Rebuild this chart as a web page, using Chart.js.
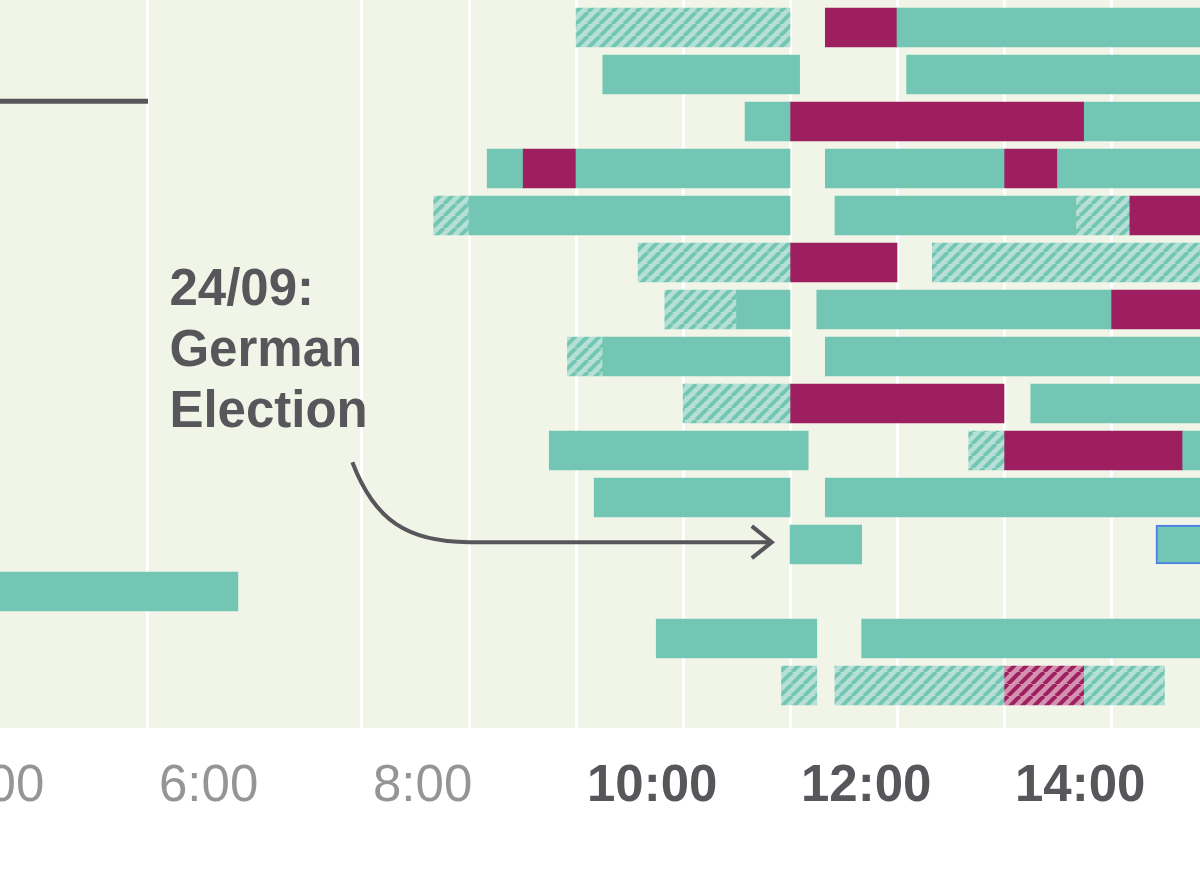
<!DOCTYPE html>
<html>
<head>
<meta charset="utf-8">
<script src="https://cdn.jsdelivr.net/npm/chart.js@4.4.1/dist/chart.umd.min.js"></script>
<style>
  html, body { margin: 0; padding: 0; background: #ffffff; }
  #wrap { width: 1200px; height: 881px; }
</style>
</head>
<body>
<div id="wrap"><canvas id="timeline" width="1200" height="881"></canvas></div>
<script>
// rows counted from the top, times in decimal hours: [row, start, end]
const tealBars = [
    [0, 13.0, 16],
    [1, 10.25, 12.09], [1, 13.09, 16],
    [2, 11.58, 12.0], [2, 14.75, 16],
    [3, 9.17, 9.5], [3, 10.0, 12.0], [3, 12.33, 14.0], [3, 14.5, 16],
    [4, 9.0, 12.0], [4, 12.42, 14.67],
    [6, 11.5, 12.0], [6, 12.25, 15.0],
    [7, 10.25, 12.0], [7, 12.33, 16],
    [8, 14.25, 16],
    [9, 9.75, 12.17], [9, 15.67, 16],
    [10, 10.17, 12.0], [10, 12.33, 16],
    [11, 12.0, 12.67],
    [12, 4.0, 6.84],
    [13, 10.75, 12.25], [13, 12.67, 16]
];
const tealHatchBars = [
    [0, 10.0, 12.0],
    [4, 8.67, 9.0], [4, 14.67, 15.17],
    [5, 10.58, 12.0], [5, 13.33, 16],
    [6, 10.83, 11.5],
    [7, 9.92, 10.25],
    [8, 11.0, 12.0],
    [9, 13.67, 14.0],
    [14, 11.92, 12.25], [14, 12.42, 14.0], [14, 14.75, 15.5]
];
const plumBars = [
    [0, 12.33, 13.0],
    [2, 12.0, 14.75],
    [3, 9.5, 10.0], [3, 14.0, 14.5],
    [4, 15.17, 16],
    [5, 12.0, 13.0],
    [6, 15.0, 16],
    [8, 12.0, 14.0],
    [9, 14.0, 15.67]
];
const plumHatchBars = [[14, 14.0, 14.75]];
const selectedBars = [[11, 15.42, 16]];

// leader line at top left: [row, start, end]
const leaderLine = [1.57, 4.5, 6.0];

const tickHours = [4, 5, 6, 7, 8, 9, 10, 11, 12, 13, 14, 15];
const gridHours = [6, 8, 9, 10, 11, 12, 13, 14, 15];
const labelHours = [4, 6, 8, 10, 12, 14];
const boldHours = [10, 12, 14];

const annotationLines = ['24/09:', 'German', 'Election'];

const TEAL = '#74c6b4';
const TEAL_LIGHT = '#b6e0d5';
const PLUM = '#9e1f5f';
const PLUM_LIGHT = '#d491b0';
const BG = '#f0f5e8';
const INK = '#57575b';

function hatch(base, stripe) {
    const s = 12;
    const c = document.createElement('canvas');
    c.width = s;
    c.height = s;
    const g = c.getContext('2d');
    g.fillStyle = base;
    g.fillRect(0, 0, s, s);
    g.strokeStyle = stripe;
    g.lineWidth = 4;
    [-s, 0, s].forEach(function(k) {
        g.beginPath();
        g.moveTo(k, s);
        g.lineTo(k + s, 0);
        g.stroke();
    });
    return g.createPattern(c, 'repeat');
}

function toPoints(list) {
    return list.map(function(b) { return { x: [b[1], b[2]], y: b[0] }; });
}

function barSet(list, fill) {
    return {
        type: 'bar',
        data: toPoints(list),
        backgroundColor: fill,
        borderWidth: 0,
        barThickness: 39,
        grouped: false
    };
}

// Fondo verde claro del área del gráfico
const backgroundPlugin = {
    id: 'plotBackground',
    beforeDraw: function(chart) {
        const a = chart.chartArea;
        const ctx = chart.ctx;
        ctx.save();
        ctx.fillStyle = BG;
        ctx.fillRect(a.left, a.top, a.right - a.left, a.bottom - a.top);
        ctx.restore();
    }
};

// Anotación con flecha curva
const annotationPlugin = {
    id: 'electionNote',
    afterDatasetsDraw: function(chart) {
        const ctx = chart.ctx;
        const x = chart.scales.x;
        const y = chart.scales.y;

        const tx = x.getPixelForValue(6.2);
        const ty = y.getPixelForValue(5.9);
        ctx.save();
        ctx.fillStyle = INK;
        ctx.font = 'bold 51px "Liberation Sans", Arial, sans-serif';
        ctx.textBaseline = 'alphabetic';
        annotationLines.forEach(function(line, i) {
            ctx.fillText(line, tx, ty + i * 61);
        });

        const sx = x.getPixelForValue(7.91), sy = y.getPixelForValue(9.25);
        const ex = x.getPixelForValue(9.0), ey = y.getPixelForValue(10.95);
        const tipX = x.getPixelForValue(11.83);
        ctx.strokeStyle = INK;
        ctx.lineWidth = 4;
        ctx.beginPath();
        ctx.moveTo(sx, sy);
        ctx.bezierCurveTo(sx + 22, sy + 58, sx + 55, ey, ex, ey);
        ctx.lineTo(tipX - 3, ey);
        ctx.stroke();
        ctx.beginPath();
        ctx.moveTo(tipX - 20, ey - 16);
        ctx.lineTo(tipX, ey);
        ctx.lineTo(tipX - 20, ey + 16);
        ctx.stroke();
        ctx.restore();
    }
};

const tickFont = function(context) {
    const v = context.tick ? context.tick.value : 0;
    if (boldHours.indexOf(v) >= 0) {
        return { family: '"Liberation Sans", Arial, sans-serif', size: 51, weight: 'bold', lineHeight: '64px' };
    }
    return { family: '"Liberation Sans", Arial, sans-serif', size: 51, weight: 'normal', lineHeight: '64px' };
};

const ctx = document.getElementById('timeline');

new Chart(ctx, {
    type: 'bar',
    data: {
        datasets: [
            barSet(tealBars, TEAL),
            barSet(tealHatchBars, hatch(TEAL_LIGHT, TEAL)),
            barSet(plumBars, PLUM),
            barSet(plumHatchBars, hatch(PLUM_LIGHT, PLUM)),
            Object.assign(barSet(selectedBars, TEAL), {
                borderColor: '#4d7ee6',
                borderWidth: 2,
                borderSkipped: false
            }),
            {
                type: 'line',
                indexAxis: 'x',
                data: [
                    { x: leaderLine[1], y: leaderLine[0] },
                    { x: leaderLine[2], y: leaderLine[0] }
                ],
                borderColor: INK,
                borderWidth: 5,
                borderCapStyle: 'butt',
                pointRadius: 0,
                fill: false
            }
        ]
    },
    options: {
        indexAxis: 'y',
        responsive: false,
        animation: false,
        devicePixelRatio: 1,
        layout: {
            padding: { left: 0, right: 0, top: 0, bottom: 65 }
        },
        scales: {
            x: {
                type: 'linear',
                position: 'bottom',
                offset: false,
                min: 6 - 148 / 107,
                max: 6 + 1052 / 107,
                afterBuildTicks: function(axis) {
                    axis.ticks = tickHours.map(function(v) { return { value: v }; });
                },
                afterFit: function(axis) {
                    // las etiquetas fuera del rango no deben empujar el área
                    axis.paddingLeft = 0;
                    axis.paddingRight = 0;
                    axis.height = 88;
                },
                grid: {
                    color: function(c) {
                        return gridHours.indexOf(c.tick.value) >= 0 ? '#ffffff' : 'rgba(0,0,0,0)';
                    },
                    lineWidth: 3,
                    drawTicks: false,
                    offset: false
                },
                border: { display: false },
                ticks: {
                    autoSkip: false,
                    maxRotation: 0,
                    minRotation: 0,
                    align: 'start',
                    labelOffset: 11,
                    padding: 27,
                    font: tickFont,
                    color: function(c) {
                        return boldHours.indexOf(c.tick.value) >= 0 ? INK : '#959595';
                    },
                    callback: function(value) {
                        return labelHours.indexOf(value) >= 0 ? value + ':00' : '';
                    }
                }
            },
            y: {
                type: 'linear',
                display: false,
                reverse: true,
                offset: false,
                min: -27.5 / 47,
                max: -27.5 / 47 + 728 / 47,
                grid: { offset: false }
            }
        },
        plugins: {
            legend: { display: false },
            tooltip: { enabled: false }
        }
    },
    plugins: [backgroundPlugin, annotationPlugin]
});
</script>
</body>
</html>
